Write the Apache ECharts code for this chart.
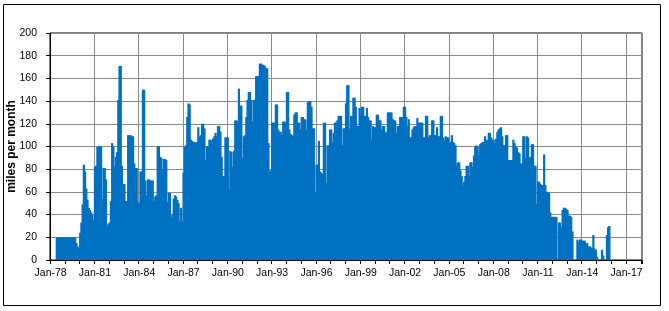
<!DOCTYPE html>
<html><head><meta charset="utf-8">
<script src="https://cdn.jsdelivr.net/npm/echarts@6/dist/echarts.min.js"></script>
<style>html,body{margin:0;padding:0;background:#fff}#c{width:669px;height:311px}</style>
</head><body><div id="c"></div>
<script>
// Month categories: Jan-1978 .. Jan-2018
const startYear = 1978, endYear = 2018;
const monthNames = ['Jan','Feb','Mar','Apr','May','Jun','Jul','Aug','Sep','Oct','Nov','Dec'];
const categories = [];
for (let y = startYear; y <= endYear; y++) {
  for (let m = 0; m < 12; m++) {
    if (y === endYear && m > 0) break;
    categories.push(y + '-' + String(m + 1).padStart(2, '0'));
  }
}
// Y axis ticks
const yTicks = [0, 20, 40, 60, 80, 100, 120, 140, 160, 180, 200];
const yAxisTitle = 'miles per month';

// Monthly values, one row per year (1978 .. 2015)
const milesPerMonth = [
/*1978*/ null,null,null,null,null,20,20,20,20,20,20,20,
/*1979*/ 20,20,20,20,20,20,20,20,20,15,12,10,
/*1980*/ 24,33,49,84,78,63,53,46,44,42,40,35,
/*1981*/ 82,83,100,100,100,100,54,81,81,71,30,32,
/*1982*/ 33,52,103,100,82,91,95,141,171,171,83,67,
/*1983*/ 67,52,52,110,110,110,109,109,85,81,81,51,
/*1984*/ 50,78,78,150,150,70,57,71,71,70,70,70,
/*1985*/ 52,56,57,100,100,91,90,80,89,89,88,51,
/*1986*/ 59,59,38,40,54,57,56,53,50,34,46,34,
/*1987*/ 77,100,101,126,138,137,106,105,104,104,103,104,
/*1988*/ 117,109,110,120,120,116,88,100,100,106,106,105,
/*1989*/ 107,109,112,109,118,118,113,91,74,74,108,108,
/*1990*/ 108,62,96,95,82,96,123,123,122,151,136,136,
/*1991*/ 90,109,110,126,141,148,148,141,122,141,141,162,
/*1992*/ 162,162,173,173,172,172,171,169,169,103,78,79,
/*1993*/ 121,121,121,137,137,115,113,113,110,122,122,121,
/*1994*/ 148,148,115,111,110,109,128,130,130,121,121,115,
/*1995*/ 126,126,124,124,115,139,140,140,135,116,116,60,
/*1996*/ 84,84,105,78,77,76,121,121,68,101,101,115,
/*1997*/ 115,104,112,121,121,123,127,127,127,101,116,116,
/*1998*/ 138,154,154,116,127,127,143,143,135,118,118,134,
/*1999*/ 127,135,135,127,127,134,126,123,123,106,118,117,
/*2000*/ 117,128,128,123,123,115,118,118,112,113,130,130,
/*2001*/ 130,130,124,123,123,112,118,118,126,126,126,135,
/*2002*/ 135,126,118,124,108,108,115,117,118,118,125,121,
/*2003*/ 121,121,121,108,108,127,127,108,110,110,123,123,
/*2004*/ 110,110,117,109,109,127,127,108,105,109,108,108,
/*2005*/ 103,104,110,104,103,101,84,86,86,79,74,65,
/*2006*/ 69,74,83,83,74,86,86,82,92,100,101,100,
/*2007*/ 92,102,103,104,104,109,105,106,112,112,108,106,
/*2008*/ 106,103,107,113,115,116,117,109,101,101,110,110,
/*2009*/ 88,88,88,88,106,103,100,99,95,94,85,85,
/*2010*/ 109,109,90,109,108,90,91,102,102,83,83,49,
/*2011*/ 69,69,67,66,66,93,66,60,60,59,42,38,
/*2012*/ 38,38,38,38,0,33,33,29,44,46,46,45,
/*2013*/ 44,39,39,38,25,0,0,0,18,16,18,18,
/*2014*/ 17,17,17,15,15,12,12,11,11,22,10,9,
/*2015*/ 3,0,0,0,9,4,0,0,22,29,30,null
];

const FONT = '"Liberation Sans", Arial, sans-serif';
const chart = echarts.init(document.getElementById('c'), null, {renderer: 'canvas'});
chart.setOption({
  animation: false,
  backgroundColor: '#fff',
  graphic: [{
    type: 'rect', z: -10, silent: true,
    shape: {x: 3.5, y: 4.5, width: 657, height: 301},
    style: {fill: 'none', stroke: '#000', lineWidth: 1}
  }],
  grid: {left: 50, right: 27, top: 33, bottom: 51, outerBoundsMode: 'none', containLabel: false,
         show: true, borderColor: '#000', borderWidth: 1},
  xAxis: {
    type: 'category',
    data: categories,
    boundaryGap: true,
    axisLine: {show: true, lineStyle: {color: '#000', width: 1}},
    axisTick: {show: true, length: 4, interval: (i) => i % 12 === 0, lineStyle: {color: '#000'}},
    axisLabel: {
      interval: (i) => i % 36 === 0,
      margin: 8, color: '#000', fontFamily: FONT, fontSize: 10.5,
      formatter: (v) => monthNames[+v.slice(5) - 1] + '-' + v.slice(2, 4)
    },
    splitLine: {show: true, interval: (i) => i % 36 === 0 && i > 0, lineStyle: {color: '#8a8a8a', width: 1}}
  },
  yAxis: {
    type: 'value',
    min: yTicks[0], max: yTicks[yTicks.length - 1], interval: yTicks[1] - yTicks[0],
    name: yAxisTitle, nameLocation: 'middle', nameRotate: 90, nameGap: 32, nameMoveOverlap: false,
    nameTextStyle: {fontFamily: FONT, fontSize: 12, fontWeight: 'bold', color: '#000'},
    axisLine: {show: true, lineStyle: {color: '#000', width: 1}},
    axisTick: {show: true, length: 4, lineStyle: {color: '#000'}},
    axisLabel: {margin: 13, color: '#000', fontFamily: FONT, fontSize: 10.5},
    splitLine: {show: true, lineStyle: {color: '#8a8a8a', width: 1}}
  },
  series: [{
    type: 'bar',
    data: milesPerMonth,
    barWidth: 2.2,
    itemStyle: {color: '#0070C0'},
    emphasis: {disabled: true}
  }]
});
</script>
</body></html>
